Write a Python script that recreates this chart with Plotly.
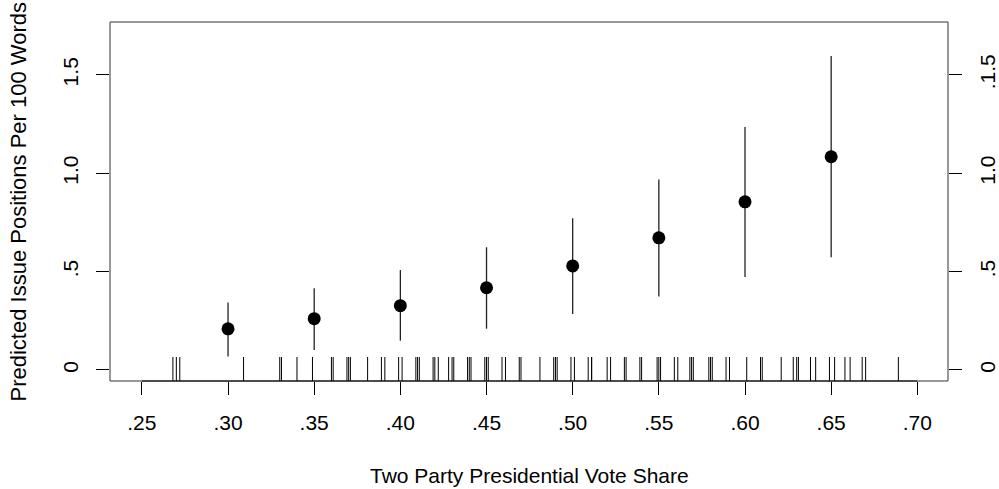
import plotly.graph_objects as go

# --- data ---
vote_share = [0.30, 0.35, 0.40, 0.45, 0.50, 0.55, 0.60, 0.65]
predicted = [0.209, 0.261, 0.327, 0.418, 0.529, 0.672, 0.855, 1.084]
upper = [0.343, 0.416, 0.508, 0.624, 0.771, 0.968, 1.235, 1.596]
lower = [0.068, 0.102, 0.149, 0.210, 0.285, 0.374, 0.473, 0.573]

rug_values = [
    0.268, 0.270, 0.272, 0.309, 0.330, 0.331, 0.340, 0.349, 0.360, 0.361,
    0.369, 0.370, 0.371, 0.381, 0.389, 0.391, 0.399, 0.401, 0.409, 0.410,
    0.411, 0.419, 0.420, 0.422, 0.428, 0.430, 0.431, 0.439, 0.440, 0.441,
    0.449, 0.450, 0.451, 0.459, 0.461, 0.469, 0.470, 0.481, 0.489, 0.490,
    0.491, 0.499, 0.501, 0.509, 0.511, 0.511, 0.520, 0.522, 0.530, 0.531,
    0.539, 0.540, 0.549, 0.550, 0.551, 0.559, 0.561, 0.568, 0.569, 0.570,
    0.579, 0.580, 0.581, 0.589, 0.591, 0.601, 0.609, 0.610, 0.621, 0.628,
    0.630, 0.631, 0.638, 0.641, 0.649, 0.652, 0.658, 0.661, 0.668, 0.670,
    0.689,
]

x_tickvals = [0.25, 0.30, 0.35, 0.40, 0.45, 0.50, 0.55, 0.60, 0.65, 0.70]
x_ticktext = [".25", ".30", ".35", ".40", ".45", ".50", ".55", ".60", ".65", ".70"]
y_tickvals = [0, 0.5, 1.0, 1.5]
y_ticktext_left = ["0", ".5", "1.0", "1.5"]
y_ticktext_right = ["0", ".5", "1.0", ".1.5"]

x_label = "Two Party Presidential Vote Share"
y_label = "Predicted Issue Positions Per 100 Words"

# --- styling ---
FONT = "Liberation Sans, Arial, Helvetica, sans-serif"
FS = 21
XR = [0.2315, 0.7178]
YR = [-0.056, 1.769]
RUG_TOP = 0.066

rug_x, rug_y = [], []
for v in rug_values:
    rug_x += [v, v, None]
    rug_y += [YR[0], RUG_TOP, None]

fig = go.Figure()
fig.add_trace(go.Scatter(
    x=rug_x, y=rug_y, mode="lines",
    line=dict(color="black", width=1), hoverinfo="skip", showlegend=False,
))
fig.add_trace(go.Scatter(
    x=vote_share, y=predicted, mode="markers",
    marker=dict(color="black", size=13),
    error_y=dict(
        type="data", symmetric=False,
        array=[u - p for u, p in zip(upper, predicted)],
        arrayminus=[p - l for p, l in zip(predicted, lower)],
        width=0, thickness=1.3, color="#222222",
    ),
    showlegend=False,
))
# invisible trace to activate the right axis
fig.add_trace(go.Scatter(x=[XR[0]], y=[0], yaxis="y2", mode="markers",
                         marker=dict(opacity=0), hoverinfo="skip", showlegend=False))

axis_common = dict(
    ticks="outside", ticklen=13, tickwidth=1, tickcolor="black",
    showgrid=False, zeroline=False, automargin=False,
    tickfont=dict(family=FONT, size=FS, color="black"),
)

fig.update_layout(
    width=999, height=489,
    margin=dict(l=110, r=51, t=22, b=108),
    paper_bgcolor="white", plot_bgcolor="white",
    font=dict(family=FONT, size=FS, color="black"),
    xaxis=dict(range=XR, tickvals=x_tickvals, ticktext=x_ticktext,
               showline=False, ticklabelstandoff=10, **axis_common),
    yaxis=dict(range=YR, tickvals=y_tickvals, ticktext=y_ticktext_left,
               tickangle=-90, showline=False, ticklabelstandoff=10, **axis_common),
    yaxis2=dict(range=YR, tickvals=y_tickvals, ticktext=y_ticktext_right,
                overlaying="y", side="right", tickangle=-90, showline=False,
                ticklabelstandoff=8, **axis_common),
    shapes=[
        dict(type="rect", xref="paper", yref="paper", x0=0, x1=1, y0=0, y1=1,
             line=dict(color="#333333", width=1)),
        dict(type="line", xref="x", yref="paper", x0=0.25, x1=0.70, y0=0, y1=0,
             line=dict(color="black", width=1)),
    ],
    annotations=[
        dict(text=x_label, xref="paper", yref="paper", x=0.5, y=-0.262,
             xanchor="center", yanchor="middle", showarrow=False,
             font=dict(family=FONT, size=21, color="black")),
        dict(text=y_label, xref="paper", yref="paper", x=-0.1086, y=0.5,
             xanchor="center", yanchor="middle", textangle=-90, showarrow=False,
             font=dict(family=FONT, size=22, color="black")),
    ],
)

# remove the page's default 8px body margin so the figure sits at (0, 0)
fig.write_html("out.html", config={"displayModeBar": False},
               post_script="document.body.style.margin='0';")
